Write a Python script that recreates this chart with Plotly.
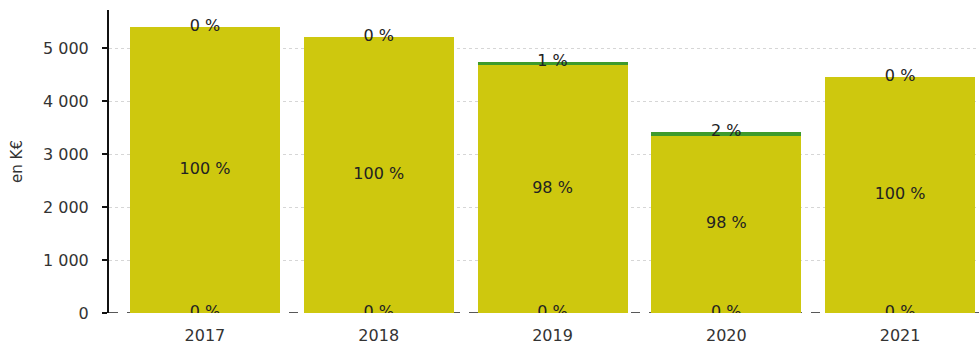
import plotly.graph_objects as go

years = ["2017", "2018", "2019", "2020", "2021"]
bottom_vals = [0, 0, 0, 0, 0]
middle_vals = [5400, 5213, 4680, 3345, 4447]
top_vals = [0, 0, 62, 76, 0]
bottom_pct = ["0 %", "0 %", "0 %", "0 %", "0 %"]
middle_pct = ["100 %", "100 %", "98 %", "98 %", "100 %"]
top_pct = ["0 %", "0 %", "1 %", "2 %", "0 %"]
y_ticks = [0, 1000, 2000, 3000, 4000, 5000]
y_tick_text = ["0", "1 000", "2 000", "3 000", "4 000", "5 000"]

YELLOW = "#CEC80E"
GREEN = "#3E9A2C"
FONT = "DejaVu Sans"

fig = go.Figure()
fig.add_trace(go.Bar(x=years, y=bottom_vals, marker=dict(color=GREEN, line=dict(width=0)), showlegend=False))
fig.add_trace(go.Bar(x=years, y=middle_vals, marker=dict(color=YELLOW, line=dict(width=0)), showlegend=False))
fig.add_trace(go.Bar(x=years, y=top_vals, marker=dict(color=GREEN, line=dict(width=0)), showlegend=False))

bottom_y = [b for b in bottom_vals]
middle_y = [b + m / 2 for b, m in zip(bottom_vals, middle_vals)]
top_y = [b + m + t for b, m, t in zip(bottom_vals, middle_vals, top_vals)]

lbl_font = dict(family=FONT, size=16, color="#222222")
for ys, txt in [(bottom_y, bottom_pct), (middle_y, middle_pct), (top_y, top_pct)]:
    fig.add_trace(go.Scatter(x=years, y=ys, mode="text", text=txt, textposition="middle center",
                             textfont=lbl_font, cliponaxis=True, showlegend=False, hoverinfo="skip"))

fig.add_shape(type="line", xref="paper", yref="y", x0=0, x1=1, y0=0, y1=0,
              line=dict(color="#222222", width=1.5, dash="dash"), layer="below")

fig.update_layout(
    barmode="stack",
    bargap=0.137,
    width=979, height=345,
    margin=dict(l=109, r=0, t=10, b=32),
    plot_bgcolor="white", paper_bgcolor="white",
    font=dict(family=FONT, size=16, color="#333333"),
    xaxis=dict(type="category", range=[-0.552, 4.454], showline=False, showgrid=False,
               zeroline=False, ticks="", tickfont=dict(family=FONT, size=16, color="#333333"),
               ticklabelstandoff=11),
    yaxis=dict(range=[0, 5717], tickvals=y_ticks, ticktext=y_tick_text,
               showline=True, linecolor="#111111", linewidth=2,
               ticks="outside", ticklen=5, tickcolor="#111111", tickwidth=1.5,
               showgrid=True, gridcolor="#d6d6d6", griddash="dot", gridwidth=1,
               zeroline=False, ticklabelstandoff=10,
               tickfont=dict(family=FONT, size=16, color="#333333"),
               title=dict(text="en K€", font=dict(family=FONT, size=15, color="#333333"), standoff=17)),
)

fig.write_html("out.html")
